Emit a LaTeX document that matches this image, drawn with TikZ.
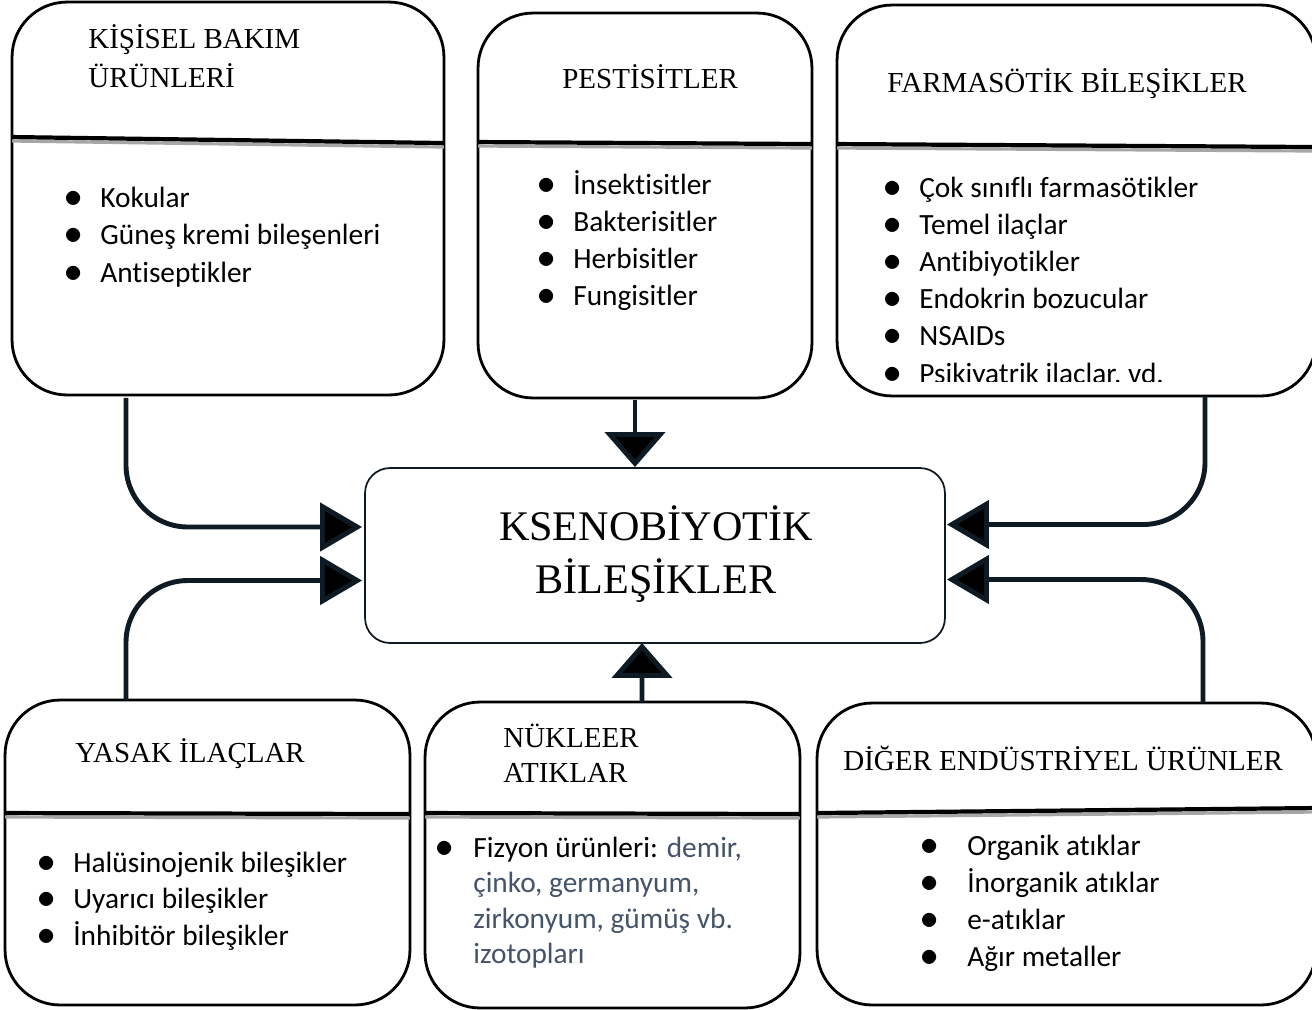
\documentclass[tikz,border=0pt]{standalone}
\usepackage{fontspec}
\setmainfont{Liberation Serif}
\newfontfamily\bodyfont[Ligatures=NoCommon]{Carlito}
\usepackage{xcolor}
\usepackage{graphicx}
\usepackage{tikz}
\usetikzlibrary{arrows.meta, positioning, calc}

\definecolor{navy}{HTML}{0E1A24}
\definecolor{slate}{HTML}{44546A}
\newcommand{\bdot}[1]{\makebox[#1][l]{\scalebox{1.2}{$\bullet$}}}
\newcommand{\blt}{\bdot{0.72cm}}

\begin{document}
\begin{tikzpicture}[
    x=0.02cm, y=-0.02cm,
    box/.style={rectangle, draw=black, line width=1.6pt, rounded corners=1.1cm, fill=white, inner sep=0pt, outer sep=0pt},
    core/.style={rectangle, draw=navy, line width=1pt, rounded corners=0.5cm, fill=white, inner sep=0pt, outer sep=0pt, minimum width=11.6cm, minimum height=3.5cm},
    sepline/.style={draw=black, line width=2.4pt},
    sepshade/.style={draw=black!35, line width=1.8pt},
    ttl/.style={font=\fontsize{16.5}{20}\selectfont, inner sep=0pt, anchor=base west},
    big/.style={font=\fontsize{24}{30}\selectfont, inner sep=0pt, anchor=base},
    itm/.style={font=\bodyfont\fontsize{16.7}{20}\selectfont, inner sep=0pt, anchor=base west},
    arrow/.style={draw=navy, line width=2.8pt, rounded corners=1.24cm, -{Triangle[length=0.84cm, width=0.96cm, fill=black]}},
    varrow/.style={draw=navy, line width=2.8pt, -{Triangle[length=0.7cm, width=1.2cm, fill=black]}}
]
\useasboundingbox (0,0) rectangle (1312,1009);

% source boxes
\node[box, minimum width=8.64cm, minimum height=7.86cm] (kbu) at (228,198.5) {};
\node[box, minimum width=6.68cm, minimum height=7.7cm] (pes) at (645,205.5) {};
\node[box, minimum width=9.58cm, minimum height=7.82cm] (farm) at (1076.5,200.5) {};
\node[box, minimum width=8.1cm, minimum height=6.1cm] (yasak) at (207.5,852.5) {};
\node[box, minimum width=7.5cm, minimum height=6.12cm] (nuk) at (612.5,855) {};
\node[box, minimum width=9.98cm, minimum height=6.04cm] (diger) at (1066.5,854) {};
\node[core] (center) at (655,555.5) {};

% header rules
\draw[sepshade] ($(kbu.north west)+(0,139)$) -- ($(kbu.north east)+(0,145)$);
\draw[sepline] ($(kbu.north west)+(0,135)$) -- ($(kbu.north east)+(0,141)$);
\draw[sepshade] ($(pes.north west)+(0,133)$) -- ($(pes.north east)+(0,135)$);
\draw[sepline] ($(pes.north west)+(0,129)$) -- ($(pes.north east)+(0,131)$);
\draw[sepshade] ($(farm.north west)+(0,143)$) -- ($(farm.north east)+(0,146)$);
\draw[sepline] ($(farm.north west)+(0,139)$) -- ($(farm.north east)+(0,142)$);
\draw[sepshade] ($(yasak.north west)+(0,117)$) -- ($(yasak.north east)+(0,118)$);
\draw[sepline] ($(yasak.north west)+(0,113)$) -- ($(yasak.north east)+(0,114)$);
\draw[sepshade] ($(nuk.north west)+(0,115)$) -- ($(nuk.north east)+(0,116)$);
\draw[sepline] ($(nuk.north west)+(0,111)$) -- ($(nuk.north east)+(0,112)$);
\draw[sepshade] ($(diger.north west)+(0,114)$) -- ($(diger.north east)+(0,109)$);
\draw[sepline] ($(diger.north west)+(0,110)$) -- ($(diger.north east)+(0,105)$);

% titles
\node[ttl] (kbuT1) at (88,48) {KİŞİSEL BAKIM};
\node[ttl] (kbuT2) at (88,87) {ÜRÜNLERİ};
\node[ttl] (pesT) at (562,88) {PESTİSİTLER};
\node[ttl] (farmT) at (887,92) {FARMASÖTİK BİLEŞİKLER};
\node[ttl] (yasakT) at (75,762) {YASAK İLAÇLAR};
\node[ttl] (nukT1) at (503,747) {NÜKLEER};
\node[ttl] (nukT2) at (503,782) {ATIKLAR};
\node[ttl] (digerT) at (843,770) {DİĞER ENDÜSTRİYEL ÜRÜNLER};
\node[big] (centerT1) at (656,540) {KSENOBİYOTİK};
\node[big] (centerT2) at (656,593) {BİLEŞİKLER};

% lists
\foreach \t [count=\i] in {Kokular, Güneş kremi bileşenleri, Antiseptikler}
  \node[itm] (kbu-\i) at (64,{207+37.5*(\i-1)}) {\blt\t};
\foreach \t [count=\i] in {İnsektisitler, Bakterisitler, Herbisitler, Fungisitler}
  \node[itm] (pes-\i) at (537,{194+37*(\i-1)}) {\blt\t};
\begin{scope}
\clip (836,150) rectangle (1312,381);
\foreach \t [count=\i] in {Çok sınıflı farmasötikler, Temel ilaçlar, Antibiyotikler, Endokrin bozucular, NSAIDs, {Psikiyatrik ilaçlar, vd.}}
  \node[itm] (farm-\i) at (883,{197+37.2*(\i-1)}) {\blt\t};
\end{scope}
\foreach \t [count=\i] in {Halüsinojenik bileşikler, Uyarıcı bileşikler, İnhibitör bileşikler}
  \node[itm] (yasak-\i) at (37,{872+36.5*(\i-1)}) {\blt\t};
\foreach \t [count=\i] in {Organik atıklar, İnorganik atıklar, e-atıklar, Ağır metaller}
  \node[itm] (diger-\i) at (920,{855+37.3*(\i-1)}) {\bdot{0.94cm}\t};
\node[itm] (nuk-1) at (435,857) {\bdot{0.76cm}Fizyon ürünleri: \textcolor{slate}{demir,}};
\node[itm, text=slate] (nuk-2) at (473,892.5) {çinko, germanyum,};
\node[itm, text=slate] (nuk-3) at (473,928) {zirkonyum, gümüş vb.};
\node[itm, text=slate] (nuk-4) at (473,963.5) {izotopları};

% connectors
\draw[arrow] ($(kbu.south)+(-102,3)$) |- ($(center.west)+(-3,-28.5)$);
\draw[arrow] ($(yasak.north)+(-81.5,0)$) |- ($(center.west)+(-3,25)$);
\draw[varrow] ($(pes.south)+(-10,2)$) -- ($(center.north)+(-20,-1)$);
\draw[varrow] ($(nuk.north)+(29.5,0)$) -- ($(center.south)+(-13,0)$);
\draw[arrow] ($(farm.south)+(128.5,0)$) |- ($(center.east)+(2,-31)$);
\draw[arrow] ($(diger.north)+(136.5,0)$) |- ($(center.east)+(2,24)$);
\end{tikzpicture}
\end{document}
